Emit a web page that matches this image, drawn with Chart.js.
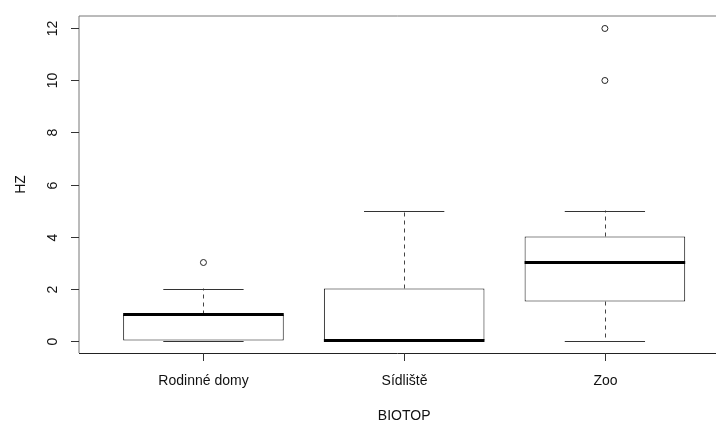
<!DOCTYPE html>
<html>
<head>
<meta charset="utf-8">
<script src="https://cdn.jsdelivr.net/npm/chart.js@4/dist/chart.umd.min.js"></script>
<style>
  html, body { margin: 0; padding: 0; background: #fff; overflow: hidden; }
  canvas { display: block; }
</style>
</head>
<body>
<canvas id="chart" width="721" height="421"></canvas>
<script>
const categories = ['Rodinné domy', 'Sídliště', 'Zoo'];
const whiskerLow = [0, 0, 0];
const q1 = [0, 0, 1.5];
const medians = [1, 0, 3];
const q3 = [1, 2, 4];
const whiskerHigh = [2, 5, 5];
const outliers = [[3], [], [10, 12]];
const yTicks = [0, 2, 4, 6, 8, 10, 12];
const xTitle = 'BIOTOP';
const yTitle = 'HZ';

const FONT = '14px "Liberation Sans", Arial, sans-serif';
const TEXT = '#111';

const boxData = categories.map((c, i) => ({ x: i + 1, y: [q1[i], q3[i]] }));
const outlierData = [];
outliers.forEach((list, i) => list.forEach(v => outlierData.push({ x: i + 1, y: v })));

const boxPlotExtras = {
  id: 'boxPlotExtras',
  afterDatasetsDraw(chart) {
    const { ctx, scales: { x, y } } = chart;
    ctx.save();
    categories.forEach((c, i) => {
      const cx = Math.round(x.getPixelForValue(i + 1)) + 0.5;
      const capL = x.getPixelForValue(i + 1 - 0.2);
      const capR = x.getPixelForValue(i + 1 + 0.2);
      // dashed whiskers
      ctx.strokeStyle = '#444';
      ctx.lineWidth = 1;
      ctx.setLineDash([4, 4]);
      ctx.beginPath();
      if (whiskerHigh[i] > q3[i]) {
        ctx.moveTo(cx, y.getPixelForValue(q3[i]));
        ctx.lineTo(cx, y.getPixelForValue(whiskerHigh[i]));
      }
      if (whiskerLow[i] < q1[i]) {
        ctx.moveTo(cx, y.getPixelForValue(q1[i]));
        ctx.lineTo(cx, y.getPixelForValue(whiskerLow[i]));
      }
      ctx.stroke();
      ctx.setLineDash([]);
      // caps
      ctx.strokeStyle = '#333';
      ctx.beginPath();
      [whiskerLow[i], whiskerHigh[i]].forEach(v => {
        const py = Math.round(y.getPixelForValue(v)) + 0.5;
        ctx.moveTo(capL, py);
        ctx.lineTo(capR, py);
      });
      ctx.stroke();
      // median
      ctx.strokeStyle = '#000';
      ctx.lineWidth = 3;
      ctx.beginPath();
      const my = y.getPixelForValue(medians[i]);
      ctx.moveTo(x.getPixelForValue(i + 1 - 0.4), my);
      ctx.lineTo(x.getPixelForValue(i + 1 + 0.4), my);
      ctx.stroke();
    });
    ctx.restore();
  },
  afterDraw(chart) {
    const { ctx, chartArea: a, scales: { x, y } } = chart;
    ctx.save();
    // plot frame (right edge is cut off in the original)
    ctx.lineWidth = 1;
    ctx.strokeStyle = '#777';
    ctx.beginPath();
    ctx.moveTo(a.right, a.top);
    ctx.lineTo(a.left, a.top);
    ctx.lineTo(a.left, a.bottom);
    ctx.stroke();
    ctx.strokeStyle = '#222';
    ctx.beginPath();
    ctx.moveTo(a.left, a.bottom + 0.5);
    ctx.lineTo(a.right, a.bottom + 0.5);
    ctx.stroke();

    // y ticks + rotated labels
    ctx.font = FONT;
    ctx.fillStyle = TEXT;
    ctx.strokeStyle = '#333';
    yTicks.forEach(t => {
      const py = Math.round(y.getPixelForValue(t)) + 0.5;
      ctx.beginPath();
      ctx.moveTo(a.left - 8, py);
      ctx.lineTo(a.left, py);
      ctx.stroke();
      ctx.save();
      ctx.translate(57, py);
      ctx.rotate(-Math.PI / 2);
      ctx.textAlign = 'center';
      ctx.textBaseline = 'alphabetic';
      ctx.fillText(String(t), 0, 0);
      ctx.restore();
    });

    // x ticks + labels
    categories.forEach((c, i) => {
      const px = Math.round(x.getPixelForValue(i + 1)) + 0.5;
      ctx.beginPath();
      ctx.moveTo(px, a.bottom);
      ctx.lineTo(px, a.bottom + 8);
      ctx.stroke();
      ctx.textAlign = 'center';
      ctx.textBaseline = 'alphabetic';
      ctx.fillText(c, px, 385);
    });

    // axis titles
    ctx.textAlign = 'center';
    ctx.fillText(xTitle, (x.getPixelForValue(0.38) + x.getPixelForValue(3.62)) / 2, 420);
    ctx.save();
    ctx.translate(25, (a.top + a.bottom) / 2);
    ctx.rotate(-Math.PI / 2);
    ctx.fillText(yTitle, 0, 0);
    ctx.restore();
    ctx.restore();
  }
};

new Chart(document.getElementById('chart'), {
  type: 'bar',
  data: {
    datasets: [{
      label: 'box',
      data: boxData,
      backgroundColor: '#fff',
      borderColor: '#111',
      borderWidth: 1,
      borderSkipped: false,
      barPercentage: 1,
      categoryPercentage: 0.8
    }, {
      type: 'scatter',
      label: 'outliers',
      data: outlierData,
      showLine: false,
      pointRadius: 3,
      pointBackgroundColor: 'rgba(0,0,0,0)',
      pointBorderColor: '#222',
      pointBorderWidth: 1
    }]
  },
  options: {
    responsive: false,
    animation: false,
    layout: { padding: { left: 79, top: 16, right: 0, bottom: 68 } },
    plugins: { legend: { display: false }, tooltip: { enabled: false } },
    scales: {
      x: {
        type: 'linear',
        display: false,
        offset: false,
        min: 0.38,
        max: 3.5535,
        ticks: { stepSize: 1, includeBounds: false }
      },
      y: {
        type: 'linear',
        display: false,
        min: -0.48,
        max: 12.48
      }
    }
  },
  plugins: [boxPlotExtras]
});
</script>
</body>
</html>
